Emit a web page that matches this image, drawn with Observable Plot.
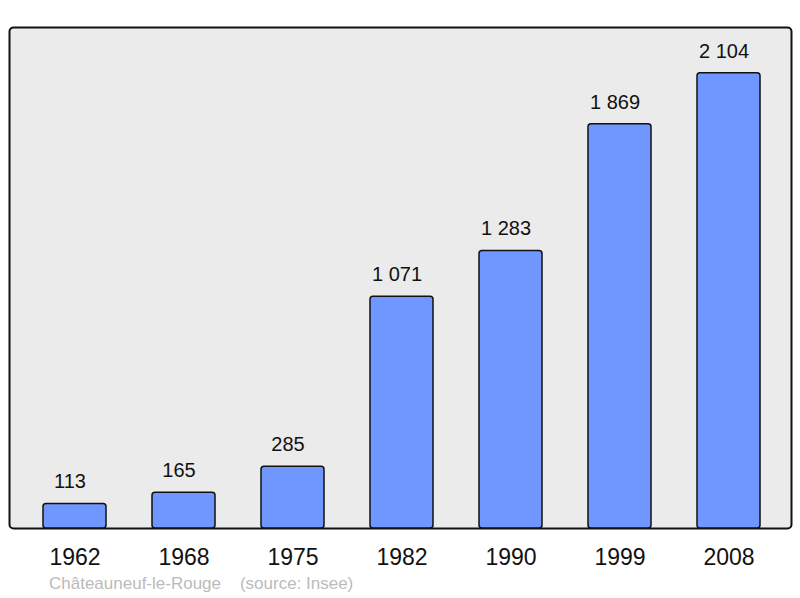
<!DOCTYPE html>
<html>
<head>
<meta charset="utf-8">
<script src="https://cdn.jsdelivr.net/npm/d3@7"></script>
<script src="https://cdn.jsdelivr.net/npm/@observablehq/plot@0.6"></script>
<style>
  html, body { margin: 0; padding: 0; background: #fff; }
  #caption { font-family: "Liberation Sans", Arial, sans-serif; font-size: 17px; color: #bbbbbb; height: 28px; line-height: 28px; padding-left: 49px; white-space: pre; }
</style>
</head>
<body>
<div id="chart"></div>
<div id="caption"></div>
<script>
const years = ["1962", "1968", "1975", "1982", "1990", "1999", "2008"];
const population = [113, 165, 285, 1071, 1283, 1869, 2104];
const commune = "Châteauneuf-le-Rouge";
const source = "(source: Insee)";

const data = years.map((y, i) => ({year: y, pop: population[i]}));
const fmt = d3.formatLocale({decimal: ",", thousands: " ", grouping: [3], currency: ["", "€"]}).format(",d");

const chart = Plot.plot({
  width: 800,
  height: 570,
  marginTop: 27,
  marginBottom: 42,
  marginLeft: 9,
  marginRight: 9,
  style: {fontFamily: "'Liberation Sans', Arial, sans-serif", background: "#fff"},
  x: {domain: years, range: [18.3, 784.2], paddingInner: 0.424, paddingOuter: 0.212, label: null},
  y: {domain: [0, 2316], axis: null},
  marks: [
    Plot.frame({fill: "#ebebeb", stroke: "#111", strokeWidth: 2, rx: 4}),
    Plot.barY(data, {x: "year", y: "pop", fill: "#7096ff", stroke: "#111", strokeWidth: 1.5, rx: 3}),
    Plot.text(data, {x: "year", y: "pop", text: d => fmt(d.pop), dy: -22, dx: -5, fontSize: 20, fill: "#111"}),
    Plot.axisX({tickSize: 0, tickPadding: 20, fontSize: 23, color: "#111"})
  ]
});
document.getElementById("chart").appendChild(chart);
document.getElementById("caption").textContent = commune + "    " + source;
</script>
</body>
</html>
